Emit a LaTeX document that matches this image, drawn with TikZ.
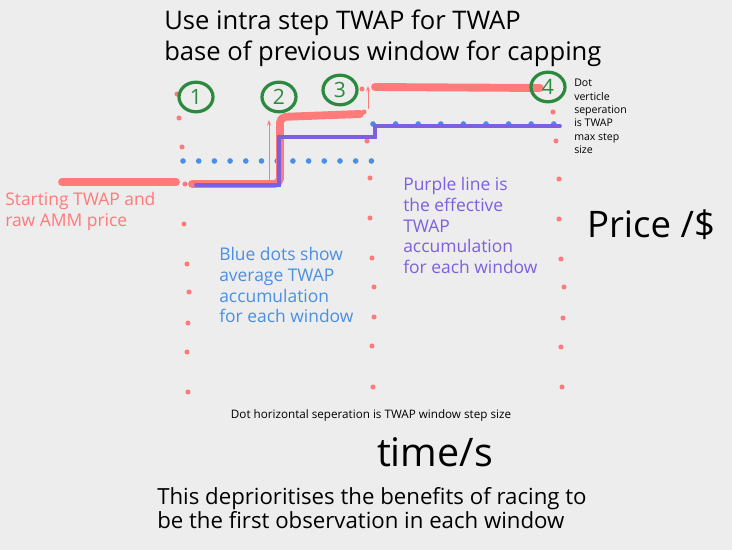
\documentclass[tikz,border=0pt]{standalone}
\usepackage{fontspec}
\setmainfont{Open Sans}
\usetikzlibrary{positioning,shapes.geometric,arrows.meta}

\definecolor{bgGrey}{HTML}{EDEDED}
\definecolor{twapRed}{HTML}{FF7A7A}
\definecolor{twapBlue}{HTML}{4A8FE2}
\definecolor{twapPurple}{HTML}{7C60E0}
\definecolor{stepGreen}{HTML}{2B8A3E}

\tikzset{
  reddot/.style={circle, fill=twapRed, inner sep=0pt, minimum size=3.6pt},
  bluedot/.style={circle, fill=twapBlue, inner sep=0pt, minimum size=4pt},
  redline/.style={draw=twapRed, line width=5.6pt, line cap=round, line join=round},
  purpleline/.style={draw=twapPurple, line width=2.6pt, line cap=round},
  capArrow/.style={draw=twapRed, line width=0.7pt, -{Stealth[length=4pt,width=3pt]}},
  stepmark/.style={ellipse, draw=stepGreen, line width=2.3pt, minimum width=0.85cm, minimum height=0.74cm, inner sep=0pt, text=stepGreen, font=\fontsize{15}{15}\selectfont},
  notetext/.style={anchor=north west, inner sep=0pt, align=left, font=\fontsize{12.4}{14.8}\selectfont}
}

\begin{document}
\begin{tikzpicture}[x=0.025cm, y=-0.025cm]
  % Fondo
  \fill[bgGrey] (0,0) rectangle (732,550);
  \useasboundingbox (0,0) rectangle (732,550);

  % Titolo
  \node[anchor=north west, inner sep=0pt, align=left, font=\fontsize{18.2}{21.5}\selectfont] (title) at (164,10)
    {Use intra step TWAP for TWAP\\base of previous window for capping};

  % Colonne di punti rossi (confini delle finestre)
  \foreach \x/\y [count=\i] in {177/94, 179/118, 182/147, 185/184, 184/224, 187/264, 189/292, 188/323, 187/352, 188/392}
    \node[reddot] (wa\i) at (\x,\y) {};
  \foreach \x/\y [count=\i] in {362/89, 364/112, 367/141, 370/178, 370/218, 372/258, 374/287, 374/317, 372/346, 373/387}
    \node[reddot] (wb\i) at (\x,\y) {};
  \foreach \x/\y [count=\i] in {553/112, 556/141, 559/179, 559/219, 561/259, 564/287, 563/318, 561/347, 562/387}
    \node[reddot] (wc\i) at (\x,\y) {};

  % Punti blu (media TWAP)
  \foreach \k in {0,...,12}
    \node[bluedot] (ba\k) at (183+15.7*\k,161) {};
  \foreach \k in {0,...,8}
    \node[bluedot] (bb\k) at (373+22.6*\k,124) {};

  % Prezzo AMM (linea rossa spessa)
  \draw[redline] (62,182) -- (176,182);
  \draw[redline, rounded corners=4pt] (192,184) -- (280,184) -- (280,117) -- (360,114);
  \draw[redline] (375,87) -- (540,88);

  % TWAP effettivo (linea viola)
  \draw[purpleline] (196,185) -- (279,185) -- (279,137) -- (373,137) -- (375,137) -- (375,126) -- (560,126);

  % Frecce di capping
  \coordinate (capA0) at (269,181);
  \coordinate (capA1) at (269,120);
  \coordinate (capB0) at (368,109);
  \coordinate (capB1) at (368,86);
  \draw[capArrow] (capA0) -- (capA1);
  \draw[capArrow] (capB0) -- (capB1);

  % Numeri dei passi
  \node[stepmark] (s1) at (196,97) {1};
  \node[stepmark] (s2) at (279,97) {2};
  \node[stepmark] (s3) at (340,90) {3};
  \node[stepmark] (s4) at (548,87) {4};

  % Testi
  \node[notetext, text=twapRed] (startNote) at (5,192) {Starting TWAP and\\raw AMM price};
  \node[notetext, text=twapBlue] (blueNote) at (219,247) {Blue dots show\\average TWAP\\accumulation\\for each window};
  \node[notetext, text=twapPurple] (purpleNote) at (403,177) {Purple line is\\the effective\\TWAP\\accumulation\\for each window};
  \node[anchor=north west, inner sep=0pt, align=left, font=\fontsize{7.5}{9.5}\selectfont] (vertNote) at (574,79)
    {Dot\\verticle\\seperation\\is TWAP\\max step\\size};
  \node[font=\fontsize{26}{26}\selectfont, inner sep=0pt] (yLabel) at (651,225) {Price /\$};
  \node[font=\fontsize{8.3}{9}\selectfont, inner sep=0pt] (horzNote) at (371,415) {Dot horizontal seperation is TWAP window step size};
  \node[font=\fontsize{28}{28}\selectfont, inner sep=0pt] (xLabel) at (435,452) {time/s};
  \node[anchor=north west, inner sep=0pt, align=left, font=\fontsize{15.8}{17.2}\selectfont] (bottomNote) at (157,487)
    {This deprioritises the benefits of racing to\\be the first observation in each window};
\end{tikzpicture}
\end{document}
